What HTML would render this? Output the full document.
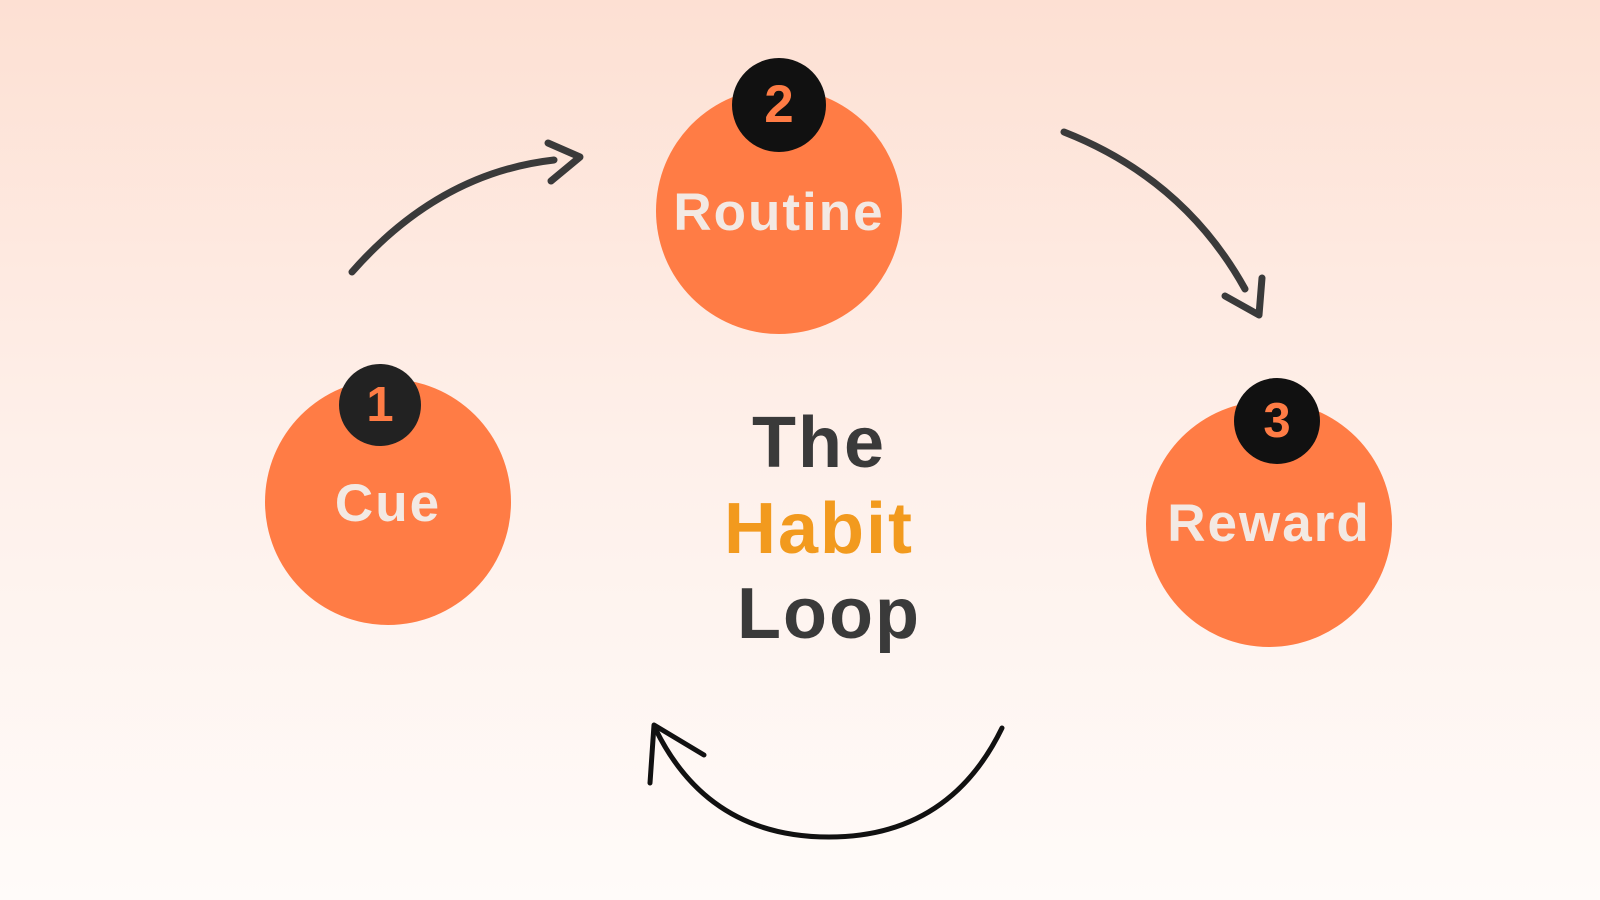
<!DOCTYPE html>
<html><head><meta charset="utf-8"><style>
html,body{margin:0;padding:0;width:1600px;height:900px;overflow:hidden}
body{background:linear-gradient(#fde0d3 0%,#fef0ea 50%,#fffbf9 100%);font-family:"Liberation Sans","DejaVu Sans",sans-serif;position:relative}
.c{position:absolute;border-radius:50%;background:#ff7c45}
.b{position:absolute;border-radius:50%;background:#111;color:#ff7c45;font-weight:bold;text-align:center}
.t{position:absolute;color:#f3e9e3;font-weight:bold;text-align:center;letter-spacing:2px}
.m{position:absolute;font-weight:bold;font-size:72px;letter-spacing:2px;width:400px;text-align:center;left:619px}
</style></head><body>
<div class="c" style="left:656px;top:88px;width:246px;height:246px"></div>
<div class="c" style="left:265px;top:379px;width:246px;height:246px"></div>
<div class="c" style="left:1146px;top:401px;width:246px;height:246px"></div>
<div class="t" style="left:656px;top:182px;width:246px;font-size:53px">Routine</div>
<div class="t" style="left:265px;top:473px;width:246px;font-size:53px">Cue</div>
<div class="t" style="left:1146px;top:493px;width:246px;font-size:53px">Reward</div>
<div class="b" style="left:732px;top:58px;width:94px;height:94px;line-height:94px;font-size:53px">2</div>
<div class="b" style="left:339px;top:364px;width:82px;height:82px;line-height:82px;font-size:49px;background:#222">1</div>
<div class="b" style="left:1234px;top:378px;width:86px;height:86px;line-height:86px;font-size:49px">3</div>
<div class="m" style="top:402px;color:#3a3a3a">The</div>
<div class="m" style="top:488px;color:#f29a1e">Habit</div>
<div class="m" style="top:573px;color:#3a3a3a;left:629px">Loop</div>
<svg width="1600" height="900" style="position:absolute;left:0;top:0" fill="none" stroke-linecap="round" stroke-linejoin="round">
<g stroke="#3a3a3a" stroke-width="7">
<path d="M352 272 Q439 173 554 160"/>
<path d="M548 143 L580 157 L551 181"/>
<path d="M1064 132 Q1184 179 1245 289"/>
<path d="M1225 296 L1259 315 L1262 278"/>
</g>
<g stroke="#111" stroke-width="5">
<path d="M1002 728 Q949 837 829 837 Q709 837 656 730"/>
<path d="M650 783 L654 725 L704 755"/>
</g>
</svg>
</body></html>
